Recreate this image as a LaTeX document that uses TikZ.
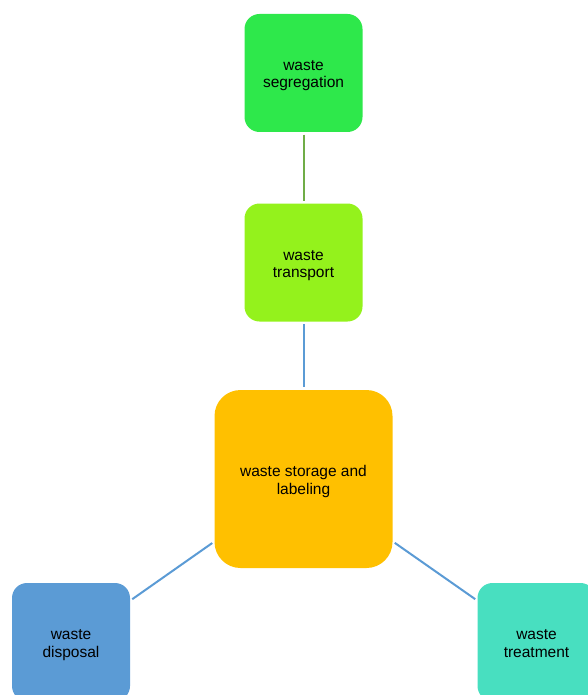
\documentclass[tikz,border=0pt]{standalone}
\usepackage{fontspec}
\setmainfont{Liberation Sans}
\usepackage{tikz}
\usetikzlibrary{positioning}
\definecolor{SegGreen}{HTML}{2EE84B}
\definecolor{TransLime}{HTML}{94F21C}
\definecolor{StoreAmber}{HTML}{FFC000}
\definecolor{DispBlue}{HTML}{5B9BD5}
\definecolor{TreatTeal}{HTML}{48DFC0}
\definecolor{LinkGreen}{HTML}{70AD47}
\definecolor{LinkBlue}{HTML}{5B9BD5}

\newcommand{\topgap}{\rule{0pt}{16pt}}
\newcommand{\lowgap}{\rule[-3.5pt]{0pt}{3.5pt}}

\tikzset{
  stagebox/.style={rounded corners=15pt,minimum width=118pt,minimum height=118pt,
    inner sep=0pt,align=center,font=\fontsize{15.5}{17.5}\selectfont},
  bigbox/.style={stagebox,rounded corners=26pt,minimum width=178pt,minimum height=178pt},
  link/.style={line width=2pt,shorten >=2.5pt,shorten <=2.5pt}
}

\begin{document}
\begin{tikzpicture}[x=1pt,y=-1pt]
  \useasboundingbox (0,0) rectangle (587,695);

  % stages
  \node[stagebox,fill=SegGreen] (segregation) at (303.5,73) {\topgap waste\\segregation\lowgap};
  \node[stagebox,fill=TransLime] (transport) at (303.5,262.5) {\topgap waste\\transport\lowgap};
  \node[bigbox,fill=StoreAmber] (storage) at (303.5,479) {\topgap waste storage and\\labeling\lowgap};
  \node[stagebox,fill=DispBlue] (disposal) at (71,642) {\topgap waste\\disposal\lowgap};
  \node[stagebox,fill=TreatTeal] (treatment) at (536.5,642) {\topgap waste\\treatment\lowgap};

  % links
  \draw[link,LinkGreen] (segregation) -- (transport);
  \draw[link,LinkBlue] (transport) -- (storage);
  \draw[link,LinkBlue] (storage) -- (disposal);
  \draw[link,LinkBlue] (storage) -- (treatment);
\end{tikzpicture}
\end{document}
